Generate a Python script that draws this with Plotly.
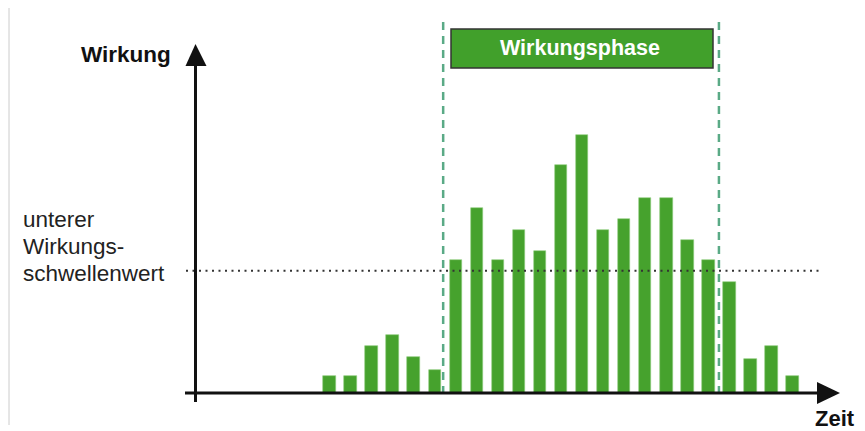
import plotly.graph_objects as go

# ---- data ----
zeit = list(range(1, 24))
wirkung = [1.7, 1.7, 4.7, 5.8, 3.6, 2.3, 13.3, 18.5, 13.3, 16.3, 14.2, 22.8,
           25.8, 16.3, 17.4, 19.5, 19.5, 15.3, 13.3, 11.1, 3.4, 4.7, 1.7]
schwellenwert = 12.2
phase_start, phase_end = 6.4, 19.5
title_y = "Wirkung"
title_x = "Zeit"
phase_label = "Wirkungsphase"
threshold_lines = ["unterer", "Wirkungs-", "schwellenwert"]

# page body has an 8px margin; figure fills the rest of the 865x431 window
OFF = 8
W, H = 865 - OFF, 431 - OFF
FONT = "Liberation Sans, Arial, Helvetica, sans-serif"
GREEN = "#46a22d"

def px(x):
    return (x - OFF) / W

def py(y):
    return 1 - (y - OFF) / H

fig = go.Figure()
fig.add_trace(go.Bar(
    x=zeit, y=wirkung, width=0.59,
    marker=dict(color=GREEN, line=dict(color="#8fcf80", width=0.6)),
    hoverinfo="skip", showlegend=False,
))

shapes = []
shapes.append(dict(type="line", xref="paper", yref="paper",
                   x0=px(9), x1=px(9), y0=py(8), y1=py(425),
                   line=dict(color="#cccccc", width=1)))
shapes.append(dict(type="line", xref="paper", yref="y",
                   x0=px(186), x1=px(822), y0=schwellenwert, y1=schwellenwert,
                   line=dict(color="#333333", width=2, dash="2px,4.5px")))
for xb in (phase_start, phase_end):
    shapes.append(dict(type="line", xref="x", yref="paper",
                       x0=xb, x1=xb, y0=py(22), y1=py(393),
                       line=dict(color="#5aaa86", width=2.5, dash="8px,6px")))
shapes.append(dict(type="line", xref="paper", yref="paper",
                   x0=px(195.5), x1=px(195.5), y0=py(402), y1=py(62),
                   line=dict(color="#111111", width=3)))
shapes.append(dict(type="path", xref="paper", yref="paper",
                   path=f"M {px(195.5)} {py(44)} L {px(185.5)} {py(66)} L {px(206.5)} {py(66)} Z",
                   fillcolor="#111111", line=dict(width=0)))
shapes.append(dict(type="line", xref="paper", yref="paper",
                   x0=px(185), x1=px(820), y0=py(393), y1=py(393),
                   line=dict(color="#111111", width=3)))
shapes.append(dict(type="path", xref="paper", yref="paper",
                   path=f"M {px(840)} {py(393)} L {px(817)} {py(382)} L {px(817)} {py(404)} Z",
                   fillcolor="#111111", line=dict(width=0)))
shapes.append(dict(type="rect", xref="paper", yref="paper",
                   x0=px(451), x1=px(713), y0=py(29), y1=py(68),
                   fillcolor="#41a02b", line=dict(color="#333333", width=1.5)))

annotations = [
    dict(text=f"<b>{title_y}</b>", xref="paper", yref="paper", x=px(173), y=py(54),
         xanchor="right", yanchor="middle", showarrow=False,
         font=dict(family=FONT, size=22.5, color="#111111")),
    dict(text=f"<b>{title_x}</b>", xref="paper", yref="paper", x=px(835), y=py(418),
         xanchor="center", yanchor="middle", showarrow=False, borderpad=0,
         font=dict(family=FONT, size=22, color="#111111")),
    dict(text=f"<b>{phase_label}</b>", xref="paper", yref="paper", x=px(580), y=py(48.5),
         xanchor="center", yanchor="middle", showarrow=False,
         font=dict(family=FONT, size=21.5, color="#ffffff")),
]
for i, t in enumerate(threshold_lines):
    annotations.append(dict(text=t, xref="paper", yref="paper", x=px(21), y=py(220 + i * 26.5),
                            xanchor="left", yanchor="middle", showarrow=False,
                            font=dict(family=FONT, size=22.5, color="#222222")))

x0 = 1 + (OFF - 329.5) / 21.05
x1 = 1 + (865 - 329.5) / 21.05
fig.update_layout(
    width=W, height=H,
    margin=dict(l=0, r=0, t=0, b=0),
    paper_bgcolor="white", plot_bgcolor="white",
    xaxis=dict(visible=False, range=[x0, x1]),
    yaxis=dict(visible=False, range=[-(431 - 392.7) / 10, (392.7 - OFF) / 10]),
    shapes=shapes, annotations=annotations,
    bargap=0,
)
fig.write_html("out.html")
